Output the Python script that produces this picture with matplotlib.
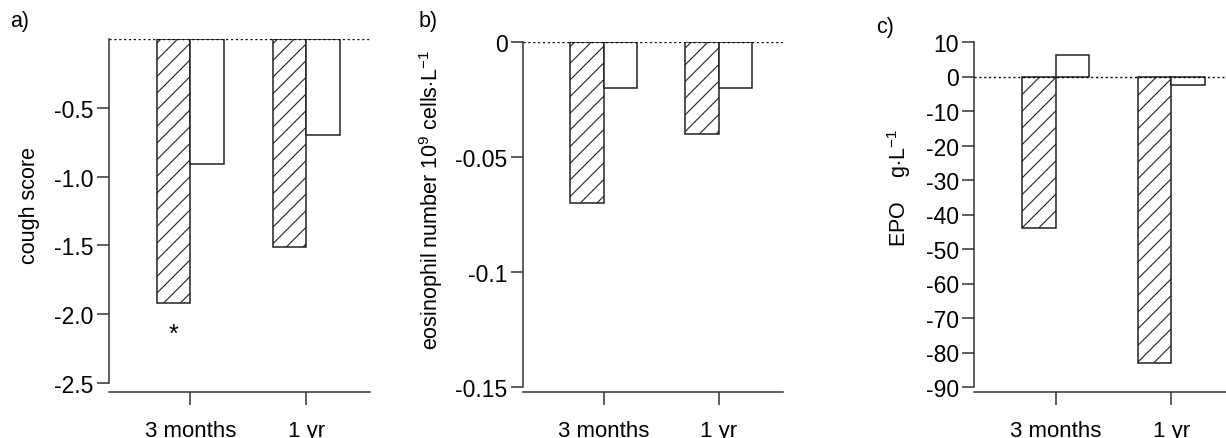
import numpy as np
import matplotlib
matplotlib.use("Agg")
import matplotlib.pyplot as plt

plt.rcParams['font.family'] = ['Liberation Sans', 'DejaVu Sans']
plt.rcParams['mathtext.fontset'] = 'custom'
plt.rcParams['mathtext.rm'] = 'Liberation Sans'
plt.rcParams['mathtext.it'] = 'Liberation Sans:italic'
plt.rcParams['axes.unicode_minus'] = False
plt.rcParams['hatch.linewidth'] = 0.8

# data
groups = ['3 months', '1 yr']
cough_hatched = [-1.92, -1.51]
cough_open = [-0.91, -0.70]
eos_hatched = [-0.070, -0.040]
eos_open = [-0.020, -0.020]
epo_hatched = [-44, -83]
epo_open = [6.3, -2.4]

cough_ticks = [-0.5, -1.0, -1.5, -2.0, -2.5]
eos_ticks = [0, -0.05, -0.1, -0.15]
eos_ticklabels = ['0', '-0.05', '-0.1', '-0.15']
epo_ticks = [10, 0, -10, -20, -30, -40, -50, -60, -70, -80, -90]

W, H = 1226, 439
fig = plt.figure(figsize=(W / 100, H / 100), dpi=100)

EDGE = '#222222'
FS_Y = 16.5   # y tick labels
FS_X = 16     # category labels
FS_L = 15.5   # axis titles


def px_axes(left, top, right, bottom):
    """Axes from pixel box (origin top-left)."""
    return fig.add_axes([left / W, 1 - bottom / H, (right - left) / W, (bottom - top) / H])


def draw_panel(ax, hatched, open_, ylim, yticks, yticklabels, xlim, offset_px):
    x = np.arange(len(groups))
    w = 0.29
    ax.bar(x - w / 2, hatched, w, facecolor='white', edgecolor=EDGE,
           hatch='//', linewidth=1.1, zorder=3)
    ax.bar(x + w / 2, open_, w, facecolor='white', edgecolor=EDGE,
           linewidth=1.1, zorder=3)
    ax.axhline(0, color='black', linestyle=(0, (1.5, 2)), linewidth=1.0, zorder=4)
    ax.set_xlim(*xlim)
    ax.set_ylim(*ylim)
    ax.set_xticks(x, groups)
    ax.set_yticks(yticks, yticklabels)
    for s in ['top', 'right']:
        ax.spines[s].set_visible(False)
    ax.spines['left'].set_bounds(min(yticks + [0]), max(yticks + [0]))
    ax.spines['bottom'].set_position(('outward', offset_px * 0.72))
    for s in ['left', 'bottom']:
        ax.spines[s].set_linewidth(1.1)
        ax.spines[s].set_color('#333333')
    ax.tick_params(axis='y', length=9, width=1.1, color='#333333', pad=2, labelsize=FS_Y)
    ax.tick_params(axis='x', length=9, width=1.1, color='#333333', pad=11, labelsize=FS_X)
    ax.patch.set_visible(False)


# a) cough score
ax_a = px_axes(109, 40, 370, 384)
draw_panel(ax_a, cough_hatched, cough_open, (-2.5, 0), cough_ticks,
           [f'{t:.1f}' for t in cough_ticks], (-0.70, 1.55), 9)
ax_a.text(-0.145, -2.14, '*', ha='center', va='center', fontsize=18)
fig.text(29 / W, 1 - 206 / H, 'cough score', rotation=90, ha='center', va='center', fontsize=FS_L)
fig.text(20 / W, 1 - 22 / H, 'a)', ha='center', va='center', fontsize=FS_L)

# b) eosinophil number
ax_b = px_axes(523, 43, 783, 388)
draw_panel(ax_b, eos_hatched, eos_open, (-0.15, 0), eos_ticks, eos_ticklabels,
           (-0.70, 1.56), 5)
fig.text(431 / W, 1 - 200 / H, r'eosinophil number 10$^{9}$ cells$\cdot$L$^{\mathregular{-1}}$',
         rotation=90, ha='center', va='center', fontsize=FS_L)
fig.text(428 / W, 1 - 22 / H, 'b)', ha='center', va='center', fontsize=FS_L)

# c) EPO
ax_c = px_axes(974, 43, 1236, 388)
draw_panel(ax_c, epo_hatched, epo_open, (-90, 10), epo_ticks,
           [str(t) for t in epo_ticks], (-0.71, 1.56), 5)
fig.text(899 / W, 1 - 188 / H, r'EPO    g$\cdot$L$^{\mathregular{-1}}$',
         rotation=90, ha='center', va='center', fontsize=FS_L)
fig.text(885 / W, 1 - 28 / H, 'c)', ha='center', va='center', fontsize=FS_L)

fig.savefig('out.png', dpi=100)
